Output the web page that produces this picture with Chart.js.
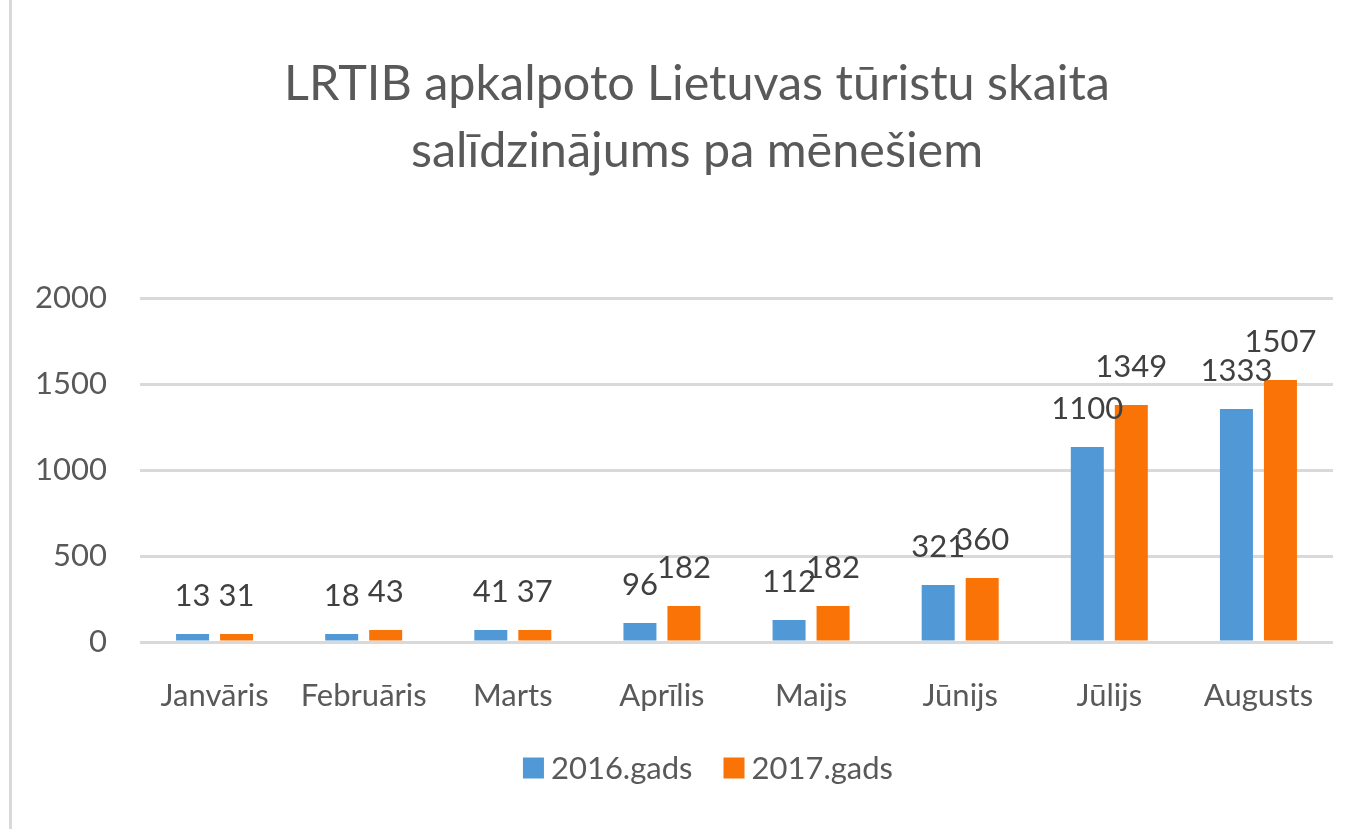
<!DOCTYPE html>
<html lang="lv">
<head>
<meta charset="utf-8">
<title>LRTIB apkalpoto Lietuvas tūristu skaita salīdzinājums</title>
<script src="https://cdn.jsdelivr.net/npm/chart.js@4.4.1/dist/chart.umd.min.js"></script>
<style>
    html, body { margin: 0; padding: 0; background: #fff; }
    #wrap { position: relative; width: 1362px; height: 829px; overflow: hidden; }
    #edge { position: absolute; left: 9px; top: 0; width: 3px; height: 829px; background: #d9d9d9; }
    #chart { position: absolute; left: 0; top: 0; }
</style>
</head>
<body>
<div id="wrap">
    <div id="edge"></div>
    <canvas id="chart" width="1362" height="829"></canvas>
</div>
<script>
// mēneši (x ass)
const months = ['Janvāris', 'Februāris', 'Marts', 'Aprīlis', 'Maijs', 'Jūnijs', 'Jūlijs', 'Augusts'];

// stabiņu augstumi, nolasīti no attēla
const bars2016 = [47, 47, 70, 110, 128, 331, 1134, 1355];
const bars2017 = [47, 70, 70, 209, 209, 372, 1378, 1523];

// datu etiķetes, kā tās redzamas virs stabiņiem
const text2016 = ['13', '18', '41', '96', '112', '321', '1100', '1333'];
const text2017 = ['31', '43', '37', '182', '182', '360', '1349', '1507'];

const yTicks = [0, 500, 1000, 1500, 2000];
const titleLines = ['LRTIB apkalpoto Lietuvas tūristu skaita', 'salīdzinājums pa mēnešiem'];

const FONT = "Lato, 'Open Sans', 'DejaVu Sans', sans-serif";
const BLUE = '#5099d6';
const ORANGE = '#f97306';

Chart.defaults.font.family = FONT;
Chart.defaults.color = '#595959';

// virsraksts (divas rindas, centrs nedaudz pa labi no audekla vidus)
const chartTitle = {
    id: 'chartTitle',
    afterDraw(chart) {
        const ctx = chart.ctx;
        ctx.save();
        ctx.font = '48.5px ' + FONT;
        ctx.fillStyle = '#595959';
        ctx.textAlign = 'center';
        ctx.textBaseline = 'middle';
        titleLines.forEach((line, i) => ctx.fillText(line, 697, 84 + i * 67));
        ctx.restore();
    }
};

// etiķetes virs stabiņiem
const valueLabels = {
    id: 'valueLabels',
    afterDatasetsDraw(chart) {
        const ctx = chart.ctx;
        const texts = [text2016, text2017];
        ctx.save();
        ctx.font = '31px ' + FONT;
        ctx.fillStyle = '#404040';
        ctx.textAlign = 'center';
        ctx.textBaseline = 'middle';
        chart.data.datasets.forEach((ds, i) => {
            chart.getDatasetMeta(i).data.forEach((bar, j) => {
                ctx.fillText(texts[i][j], bar.x, bar.y - 38);
            });
        });
        ctx.restore();
    }
};

// leģenda apakšā (kvadrātiņš + teksts)
const bottomLegend = {
    id: 'bottomLegend',
    afterDraw(chart) {
        const ctx = chart.ctx;
        const box = 21, gapText = 7, gapItem = 31, cy = 768, cx = 708;
        ctx.save();
        ctx.font = '31px ' + FONT;
        ctx.textBaseline = 'middle';
        const items = chart.data.datasets.map(ds => ({
            label: ds.label, color: ds.backgroundColor, w: ctx.measureText(ds.label).width
        }));
        let total = items.reduce((s, it) => s + box + gapText + it.w, 0) + gapItem * (items.length - 1);
        let x = cx - total / 2;
        items.forEach(it => {
            ctx.fillStyle = it.color;
            ctx.fillRect(x, cy - box / 2, box, box);
            ctx.fillStyle = '#595959';
            ctx.fillText(it.label, x + box + gapText, cy + 1);
            x += box + gapText + it.w + gapItem;
        });
        ctx.restore();
    }
};

new Chart(document.getElementById('chart'), {
    type: 'bar',
    data: {
        labels: months,
        datasets: [
            { label: '2016.gads', data: bars2016, backgroundColor: BLUE },
            { label: '2017.gads', data: bars2017, backgroundColor: ORANGE }
        ]
    },
    options: {
        responsive: false,
        animation: false,
        devicePixelRatio: 1,
        layout: { padding: { left: 20, right: 29, top: 298, bottom: 0 } },
        datasets: { bar: { categoryPercentage: 0.59, barPercentage: 0.75 } },
        scales: {
            x: {
                grid: { display: false },
                border: { display: false },
                ticks: { font: { size: 31 }, padding: 27, color: '#595959' },
                afterFit(scale) { scale.height = 187; }
            },
            y: {
                min: 0,
                max: 2000,
                afterBuildTicks(scale) { scale.ticks = yTicks.map(v => ({ value: v })); },
                grid: { color: '#d9d9d9', lineWidth: 3, drawTicks: false },
                border: { display: false },
                ticks: {
                    font: { size: 31 },
                    padding: 33,
                    color: '#595959',
                    callback: value => String(value)
                },
                afterFit(scale) { scale.width = 120; }
            }
        },
        plugins: {
            legend: { display: false },
            tooltip: { enabled: false },
            title: { display: false }
        }
    },
    plugins: [chartTitle, valueLabels, bottomLegend]
});
</script>
</body>
</html>
